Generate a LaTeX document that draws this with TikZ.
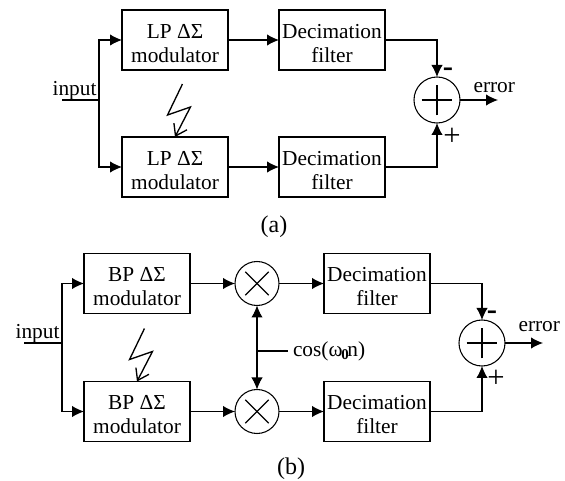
\documentclass[tikz,border=0pt]{standalone}
\usepackage{fontspec}
\setmainfont{Liberation Serif}
\usetikzlibrary{positioning}
\usetikzlibrary{arrows.meta}
\newcommand{\blocktext}[2]{\rule{0pt}{15.5pt}#1\\#2}
\tikzset{
block/.style={draw,minimum width=79.5pt,minimum height=45pt,inner sep=2pt,outer sep=0pt,align=center},
sumnode/.style={draw,circle,minimum size=34.5pt,inner sep=0pt,outer sep=0pt,
  path picture={\draw (path picture bounding box.center) ++(-11.5pt,0) -- ++(23pt,0);
  \draw (path picture bounding box.center) ++(0,-11.5pt) -- ++(0,23pt);}},
mixnode/.style={draw,circle,minimum size=33pt,inner sep=0pt,outer sep=0pt,
  path picture={\draw (path picture bounding box.center) ++(-8.8pt,-8.8pt) -- ++(17.6pt,17.6pt);
  \draw (path picture bounding box.center) ++(-8.8pt,8.8pt) -- ++(17.6pt,-17.6pt);}},
minuslabel/.style={inner sep=0pt,font=\fontsize{23}{23}\selectfont\bfseries},
pluslabel/.style={inner sep=0pt,font=\fontsize{23}{23}\selectfont},
plainlabel/.style={inner sep=0pt},
caption/.style={inner sep=0pt,font=\fontsize{18}{20}\selectfont},
zap/.style={-{Straight Barb[length=8pt,width=11pt]},line width=1pt}
}
\begin{document}
\begin{tikzpicture}[x=.75pt,y=-.75pt,auto,>={Latex[length=9pt,width=8.5pt]},thick,font=\fontsize{16}{18}\selectfont]
\path[use as bounding box] (0,0) rectangle (565,481);
% (a)
\path node[block] (m1) at (175,40) {\blocktext{LP ΔΣ}{modulator}};
\path node[block,below=50.25pt of m1] (m2) {\blocktext{LP ΔΣ}{modulator}};
\path node[block,right=38.25pt of m1] (f1) {\blocktext{Decimation}{filter}};
\path node[block,right=38.25pt of m2] (f2) {\blocktext{Decimation}{filter}};
\path node[sumnode] (s1) at (437,100) {};
\coordinate (in1) at (62,100);
\coordinate (j1) at (99,100);
\coordinate[right=28.5pt of s1.east] (o1);
\path node[plainlabel,anchor=base east] (i1) at ([shift={(-1.5pt,3pt)}]j1) {input};
\path node[plainlabel,anchor=base west] (e1) at ([shift={(9.75pt,5.25pt)}]s1.east) {error};
\path node[minuslabel] (minus1) at ([shift={(8.25pt,3.75pt)}]s1.north) {-};
\path node[pluslabel] (plus1) at ([shift={(11.25pt,-10.5pt)}]s1.south) {+};
\path node[caption] (capa) at (274,227) {(a)};
\path[draw] (in1) -- (j1);
\path[->,draw] (j1) |- (m1);
\path[->,draw] (j1) |- (m2);
\path[->] (m1) edge (f1);
\path[->] (m2) edge (f2);
\path[->,draw] (f1) -| (s1);
\path[->,draw] (f2) -| (s1);
\path[->] (s1) edge (o1);
\draw[zap] (m2.north) ++(5.6pt,39.75pt) -- ++(-11.2pt,-23.25pt) -- ++(17.2pt,6pt) -- (m2.north);
% (b)
\path node[block] (m3) at (137,283.5) {\blocktext{BP ΔΣ}{modulator}};
\path node[block,below=51pt of m3] (m4) {\blocktext{BP ΔΣ}{modulator}};
\path node[mixnode,right=33.75pt of m3] (x1) {};
\path node[mixnode,right=33.75pt of m4] (x2) {};
\path node[block,right=33.75pt of x1] (f3) {\blocktext{Decimation}{filter}};
\path node[block,right=33.75pt of x2] (f4) {\blocktext{Decimation}{filter}};
\path node[sumnode] (s2) at (482,343) {};
\coordinate (in2) at (24,343);
\coordinate (j2) at (62,343);
\coordinate[right=28.5pt of s2.east] (o2);
\path node[plainlabel,anchor=base east] (i2) at ([shift={(-1.5pt,3pt)}]j2) {input};
\path node[plainlabel,anchor=base west] (e2) at ([shift={(9.75pt,8.25pt)}]s2.east) {error};
\path node[minuslabel] (minus2) at ([shift={(7.5pt,3.75pt)}]s2.north) {-};
\path node[pluslabel] (plus2) at ([shift={(10.5pt,-9.75pt)}]s2.south) {+};
\path node[anchor=west,inner sep=3.75pt,outer sep=0pt] (cos) at (288,351) {cos(ω\kern-1pt\textsubscript{\textbf{0}}\kern-1.5pt n)};
\coordinate (c1) at (x1 |- cos);
\path node[caption] (capb) at (291,469) {(b)};
\path[draw] (in2) -- (j2);
\path[->,draw] (j2) |- (m3);
\path[->,draw] (j2) |- (m4);
\path[->] (m3) edge (x1);
\path[->] (m4) edge (x2);
\path[->] (x1) edge (f3);
\path[->] (x2) edge (f4);
\path[<->] (x1) edge (x2);
\path[draw] (c1) -- (cos);
\path[->,draw] (f3) -| (s2);
\path[->,draw] (f4) -| (s2);
\path[->] (s2) edge (o2);
\draw[zap] (m4.north) ++(5.6pt,39.75pt) -- ++(-11.2pt,-23.25pt) -- ++(17.2pt,6pt) -- (m4.north);
\end{tikzpicture}
\end{document}
